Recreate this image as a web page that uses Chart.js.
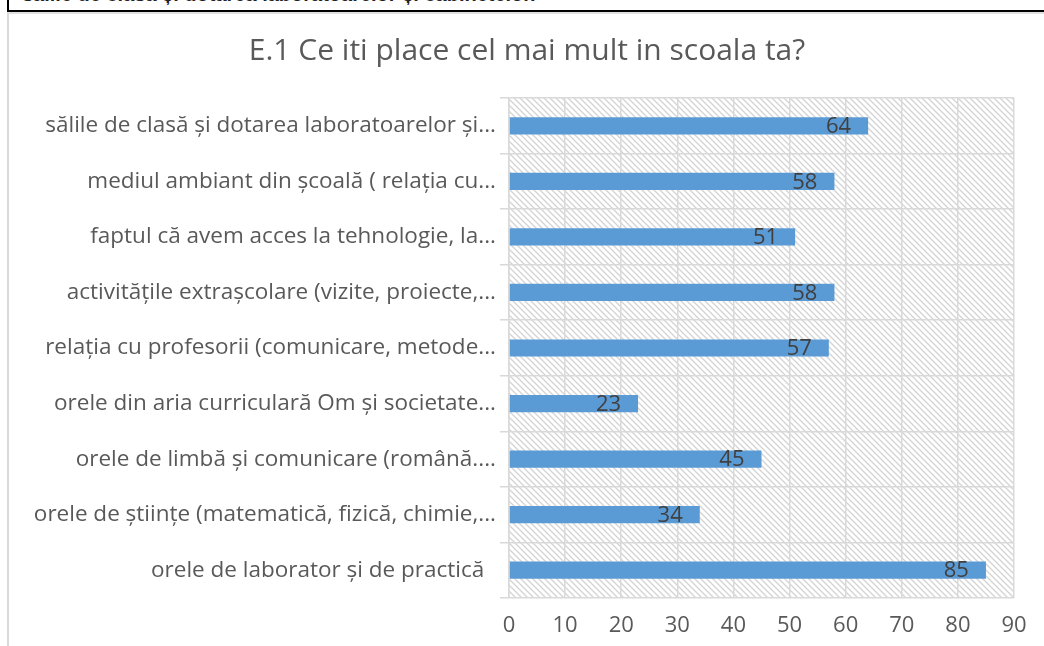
<!DOCTYPE html>
<html>
<head>
<meta charset="utf-8">
<script src="https://cdn.jsdelivr.net/npm/chart.js@4.4.1/dist/chart.umd.min.js"></script>
<style>
  html, body { margin: 0; padding: 0; background: #fff; width: 1044px; height: 646px; overflow: hidden; position: relative; }
  #topbox { position: absolute; left: 7px; top: -22px; width: 1060px; height: 30px; border: 2px solid #000; box-sizing: content-box; overflow: hidden; }
  #topbox span { position: absolute; left: 13px; top: 3px; font: bold 20px "Liberation Sans", Arial, sans-serif; line-height: normal; color: #222; white-space: nowrap; }
  #frame { position: absolute; left: 7px; top: 12px; width: 1100px; height: 700px; border-left: 2px solid #d9d9d9; border-top: 2px solid #e0e0e0; }
  #wrap { position: absolute; left: 10px; top: 14px; width: 1034px; height: 632px; }
</style>
</head>
<body>
<div id="topbox"><span>sălile de clasă și dotarea laboratoarelor și cabinetelor.</span></div>
<div id="frame"></div>
<div id="wrap"><canvas id="c" width="1034" height="632"></canvas></div>
<script>
const chartTitle = "E.1 Ce iti place cel mai mult in scoala ta?";
const categories = [
  "sălile de clasă și dotarea laboratoarelor și...",
  "mediul ambiant din școală ( relația cu...",
  "faptul că avem acces la tehnologie, la...",
  "activitățile extrașcolare (vizite, proiecte,...",
  "relația cu profesorii (comunicare, metode...",
  "orele din aria curriculară Om și societate...",
  "orele de limbă și comunicare (română....",
  "orele de științe (matematică, fizică, chimie,...",
  "orele de laborator și de practică  "
];
const values = [64, 58, 51, 58, 57, 23, 45, 34, 85];
const xTicks = [0, 10, 20, 30, 40, 50, 60, 70, 80, 90];

const hatchPlugin = {
  id: 'hatch',
  afterLayout(chart) {
    if (chart.titleBlock) { chart.titleBlock.left += 30; }
  },
  beforeDraw(chart) {
    const {ctx, chartArea: a} = chart;
    const p = document.createElement('canvas');
    p.width = 6; p.height = 6;
    const pc = p.getContext('2d');
    pc.strokeStyle = '#d3d3d3';
    pc.lineWidth = 1.3;
    pc.beginPath();
    pc.moveTo(-1, -1); pc.lineTo(7, 7);
    pc.moveTo(-7, -1); pc.lineTo(1, 7);
    pc.moveTo(5, -1); pc.lineTo(13, 7);
    pc.stroke();
    ctx.save();
    ctx.fillStyle = ctx.createPattern(p, 'repeat');
    ctx.fillRect(a.left, a.top, a.right - a.left, a.bottom - a.top);
    ctx.restore();
  }
};

const labelPlugin = {
  id: 'barLabels',
  afterDatasetsDraw(chart) {
    const {ctx} = chart;
    const meta = chart.getDatasetMeta(0);
    ctx.save();
    ctx.font = '22px "Open Sans", sans-serif';
    ctx.fillStyle = '#404040';
    ctx.textAlign = 'right';
    ctx.textBaseline = 'middle';
    meta.data.forEach((bar, i) => {
      ctx.fillText(String(values[i]), bar.x - 17, bar.y + 1);
    });
    ctx.restore();
  }
};

new Chart(document.getElementById('c'), {
  type: 'bar',
  data: {
    labels: categories,
    datasets: [{
      data: values,
      backgroundColor: '#5b9bd5',
      borderWidth: 0,
      barPercentage: 0.31,
      categoryPercentage: 1.0
    }]
  },
  options: {
    indexAxis: 'y',
    responsive: false,
    animation: false,
    devicePixelRatio: 1,
    layout: { padding: { left: 0, right: 30, top: 0, bottom: 0 } },
    plugins: {
      legend: { display: false },
      tooltip: { enabled: false },
      title: {
        display: true,
        text: chartTitle,
        color: '#595959',
        font: { family: '"Open Sans", sans-serif', size: 30, weight: 'normal' },
        padding: { top: 19, bottom: 29 }
      }
    },
    scales: {
      x: {
        min: 0, max: 90,
        afterBuildTicks(scale) { scale.ticks = xTicks.map(v => ({ value: v })); },
        afterFit(scale) { scale.height = 48; },
        grid: { color: '#d9d9d9', lineWidth: 1.5, drawTicks: false },
        border: { display: false },
        ticks: {
          color: '#595959',
          padding: 15,
          font: { family: '"Open Sans", sans-serif', size: 22 }
        }
      },
      y: {
        afterFit(scale) { scale.width = 499; },
        grid: { color: '#d9d9d9', lineWidth: 1.5, drawTicks: true, tickLength: 9, offset: true },
        border: { color: '#d9d9d9', width: 1.5 },
        ticks: {
          color: '#595959',
          padding: 4,
          font: { family: '"Open Sans", sans-serif', size: 22.5 }
        }
      }
    }
  },
  plugins: [hatchPlugin, labelPlugin]
});
</script>
</body>
</html>
